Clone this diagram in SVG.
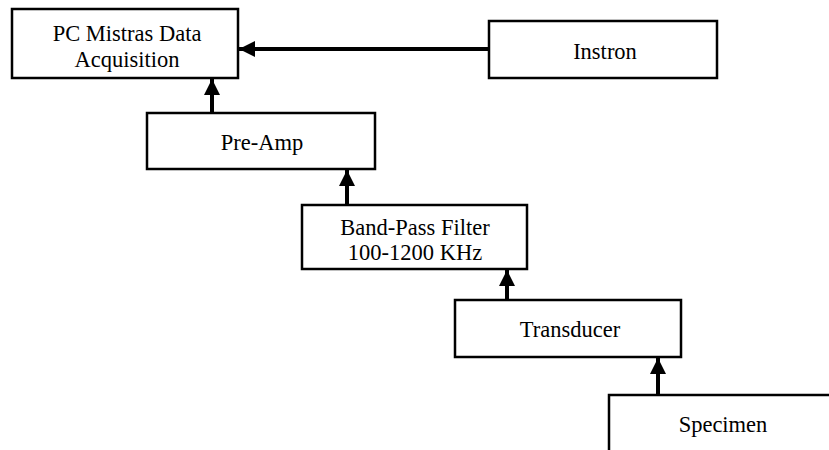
<svg xmlns="http://www.w3.org/2000/svg" width="829" height="450" viewBox="0 0 829 450">
<style>
.box{fill:#fff;stroke:#000;stroke-width:2.5}
.lbl{font-family:"Liberation Serif","Times New Roman",serif;font-size:22.5px;fill:#000;text-anchor:middle}
.conn{stroke:#000;stroke-width:4;fill:none;marker-end:url(#ah)}
</style>
<defs>
<marker id="ah" markerUnits="userSpaceOnUse" markerWidth="16" markerHeight="16" viewBox="0 0 16 16" refX="16" refY="8" orient="auto">
<path d="M0,0 L16,8 L0,16 Z" fill="#000"/>
</marker>
</defs>
<rect width="829" height="450" fill="#fff"/>
<g id="pc"><rect class="box" x="12" y="9" width="226" height="69"/><text class="lbl" x="127" y="41">PC Mistras Data</text><text class="lbl" x="127" y="67">Acquisition</text></g>
<g id="instron"><rect class="box" x="489" y="21" width="228" height="57"/><text class="lbl" x="605" y="59">Instron</text></g>
<g id="preamp"><rect class="box" x="147" y="113" width="228" height="56"/><text class="lbl" x="262" y="150">Pre-Amp</text></g>
<g id="bandpass"><rect class="box" x="302" y="205" width="225" height="64"/><text class="lbl" x="415" y="235">Band-Pass Filter</text><text class="lbl" x="415" y="260">100-1200 KHz</text></g>
<g id="transducer"><rect class="box" x="455" y="300" width="226" height="57"/><text class="lbl" x="570" y="337">Transducer</text></g>
<g id="specimen"><path d="M609,452 L609,395 L831,395" fill="#fff" stroke="#000" stroke-width="2.5"/><text class="lbl" x="723" y="432">Specimen</text></g>
<g id="connectors">
<line class="conn" x1="489" y1="49" x2="239" y2="49"/>
<line class="conn" x1="212" y1="113" x2="212" y2="79"/>
<line class="conn" x1="347" y1="205" x2="347" y2="170"/>
<line class="conn" x1="507" y1="300" x2="507" y2="270"/>
<line class="conn" x1="658" y1="395" x2="658" y2="358"/>
</g>
</svg>
